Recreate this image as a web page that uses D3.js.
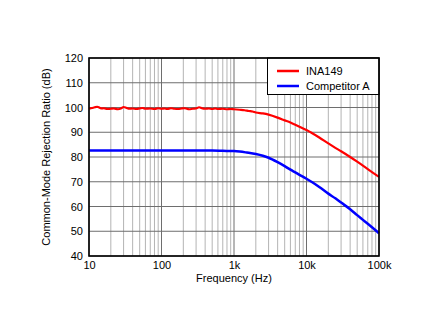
<!DOCTYPE html>
<html><head><meta charset="utf-8">
<script src="https://cdn.jsdelivr.net/npm/d3@7"></script>
<style>body{margin:0;background:#fff}text{font-family:"Liberation Sans",Arial,sans-serif}</style>
</head><body>
<script>
const xTicks = [10, 100, 1000, 10000, 100000];
const xTickLabels = ["10", "100", "1k", "10k", "100k"];
const yTicks = [40, 50, 60, 70, 80, 90, 100, 110, 120];
const seriesNames = ["INA149", "Competitor A"];
const seriesColors = ["#ff0000", "#0000ff"];

const inaFreq = [10,11,12,13,14,15,16,18,20,22,25,28,30,33,36,40,45,50,55,60,70,80,90,100,110,120,135,150,170,190,210,240,270,300,330,360,400,450,500,550,600,700,800,900,1000,1200,1400,1600,1800,2000,2500,3000,4000,5000,6000,7000,8000,10000,12000,15000,20000,25000,30000,40000,50000,60000,70000,80000,100000];
const inaVal  = [99.5,99.8,100.1,100.3,99.9,99.6,99.7,99.4,99.5,99.6,99.3,99.7,100.2,99.8,99.5,99.6,99.4,99.6,99.8,99.5,99.6,99.4,99.7,99.5,99.6,99.4,99.7,99.5,99.4,99.6,99.7,99.3,99.5,99.6,100.1,99.7,99.5,99.6,99.4,99.6,99.4,99.5,99.3,99.4,99.3,99.1,98.9,98.6,98.4,98.0,97.6,97.1,95.9,94.8,93.9,93.0,92.2,90.9,89.6,87.9,85.5,83.7,82.3,80.0,78.1,76.5,75.1,73.9,72.0];

const compFreq = [10,20,50,100,200,500,700,1000,1200,1500,2000,2500,3000,4000,5000,6000,7000,8000,10000,12000,15000,20000,25000,30000,40000,50000,60000,70000,80000,100000];
const compVal  = [82.6,82.6,82.6,82.6,82.6,82.6,82.5,82.4,82.2,81.8,81.2,80.5,79.7,77.9,76.3,74.9,73.8,72.8,71.2,69.8,67.9,65.2,63.3,61.6,58.9,56.5,54.6,53.0,51.6,49.2];

const W = 436, H = 336;
const m = {left: 89, right: 379, top: 58, bottom: 256};
const svg = d3.select("body").append("svg").attr("width", W).attr("height", H);

const x = d3.scaleLog().domain([10, 100000]).range([m.left, m.right]);
const y = d3.scaleLinear().domain([40, 120]).range([m.bottom, m.top]);

// minor vertical grid
const minor = [];
for (let d = 10; d < 100000; d *= 10) for (let k = 2; k <= 9; k++) minor.push(d * k);
const g = svg.append("g");
g.selectAll(".vmin").data(minor).enter().append("line")
  .attr("x1", d => x(d)).attr("x2", d => x(d)).attr("y1", m.top).attr("y2", m.bottom)
  .attr("stroke", "#b4b4b4").attr("stroke-width", 1);
g.selectAll(".vmaj").data(xTicks).enter().append("line")
  .attr("x1", d => x(d)).attr("x2", d => x(d)).attr("y1", m.top).attr("y2", m.bottom)
  .attr("stroke", "#6e6e6e").attr("stroke-width", 1);
g.selectAll(".hmaj").data(yTicks).enter().append("line")
  .attr("x1", m.left).attr("x2", m.right).attr("y1", d => y(d)).attr("y2", d => y(d))
  .attr("stroke", "#6e6e6e").attr("stroke-width", 1);

// axes labels via d3 axes
const xAxis = d3.axisBottom(x).tickValues(xTicks).tickFormat((d, i) => xTickLabels[i]).tickSize(0).tickPadding(5);
const xa = svg.append("g").attr("transform", `translate(0,${m.bottom})`).call(xAxis);
xa.select(".domain").remove();
xa.selectAll("text").attr("font-size", 11).attr("fill", "#000").attr("font-family", "Liberation Sans, Arial, sans-serif");

const yAxis = d3.axisLeft(y).tickValues(yTicks).tickSize(0).tickPadding(6);
const ya = svg.append("g").attr("transform", `translate(${m.left},0)`).call(yAxis);
ya.select(".domain").remove();
ya.selectAll("text").attr("font-size", 11).attr("fill", "#000").attr("font-family", "Liberation Sans, Arial, sans-serif");

// lines
const line = d3.line().x(d => x(d[0])).y(d => y(d[1])).curve(d3.curveMonotoneX);
const ina = inaFreq.map((f, i) => [f, inaVal[i]]);
const comp = compFreq.map((f, i) => [f, compVal[i]]);
svg.append("path").datum(comp).attr("d", line).attr("fill", "none")
  .attr("stroke", seriesColors[1]).attr("stroke-width", 2.5);
svg.append("path").datum(ina).attr("d", line).attr("fill", "none")
  .attr("stroke", seriesColors[0]).attr("stroke-width", 2.2);

// legend
const lg = svg.append("g");
lg.append("rect").attr("x", 267.5).attr("y", m.top).attr("width", m.right - 267.5).attr("height", 36.5)
  .attr("fill", "#fff").attr("stroke", "#000").attr("stroke-width", 1);
seriesNames.forEach((n, i) => {
  const yy = 71 + i * 15;
  lg.append("line").attr("x1", 277).attr("x2", 299).attr("y1", yy).attr("y2", yy)
    .attr("stroke", seriesColors[i]).attr("stroke-width", 2.5);
  lg.append("text").attr("x", 306).attr("y", yy + 4).attr("font-size", 11).text(n);
});

// border
svg.append("rect").attr("x", m.left).attr("y", m.top).attr("width", m.right - m.left).attr("height", m.bottom - m.top)
  .attr("fill", "none").attr("stroke", "#000").attr("stroke-width", 1.6);

// titles
svg.append("text").attr("x", (m.left + m.right) / 2).attr("y", 282).attr("text-anchor", "middle")
  .attr("font-size", 11).text("Frequency (Hz)");
svg.append("text").attr("transform", `translate(50,${(m.top + m.bottom) / 2}) rotate(-90)`)
  .attr("text-anchor", "middle").attr("font-size", 11).text("Common-Mode Rejection Ratio (dB)");
</script>
</body></html>
